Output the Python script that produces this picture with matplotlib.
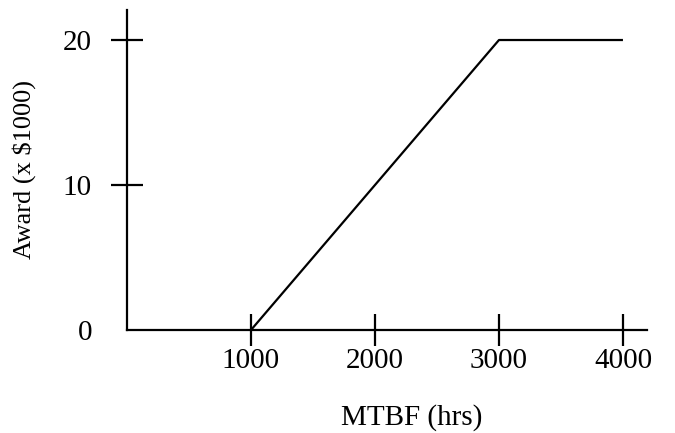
import matplotlib
matplotlib.use("Agg")
import matplotlib.pyplot as plt

mtbf = [1000, 3000, 4000]
award = [0, 20, 20]
xticks = [1000, 2000, 3000, 4000]
yticks = [0, 10, 20]

plt.rcParams['font.family'] = ['Liberation Serif', 'DejaVu Serif']

fig = plt.figure(figsize=(6.75, 4.33), dpi=100)
ax = fig.add_axes([127 / 675, 103 / 433, 520 / 675, 320 / 433])

ax.plot(mtbf, award, color='black', lw=1.6, solid_capstyle='butt')

ax.set_xlim(0, 4194)
ax.set_ylim(0, 22.07)
ax.set_xticks(xticks)
ax.set_yticks(yticks)

for s in ['top', 'right']:
    ax.spines[s].set_visible(False)
for s in ['left', 'bottom']:
    ax.spines[s].set_linewidth(1.6)

ax.tick_params(axis='both', direction='inout', length=23, width=1.6,
               labelsize=21, color='black')
ax.tick_params(axis='x', pad=1.5)
ax.tick_params(axis='y', pad=13.7)

# no tick mark at y=0, just the label
t0 = ax.yaxis.get_major_ticks()[0]
t0.tick1line.set_visible(False)

ax.set_xlabel('MTBF (hrs)', fontsize=21, va='center')
ax.xaxis.set_label_coords(0.548, -0.272)
ax.set_ylabel('Award (x $1000)', fontsize=19, va='center')
ax.yaxis.set_label_coords(-0.198, 0.503)

fig.savefig('out.png', dpi=100)
